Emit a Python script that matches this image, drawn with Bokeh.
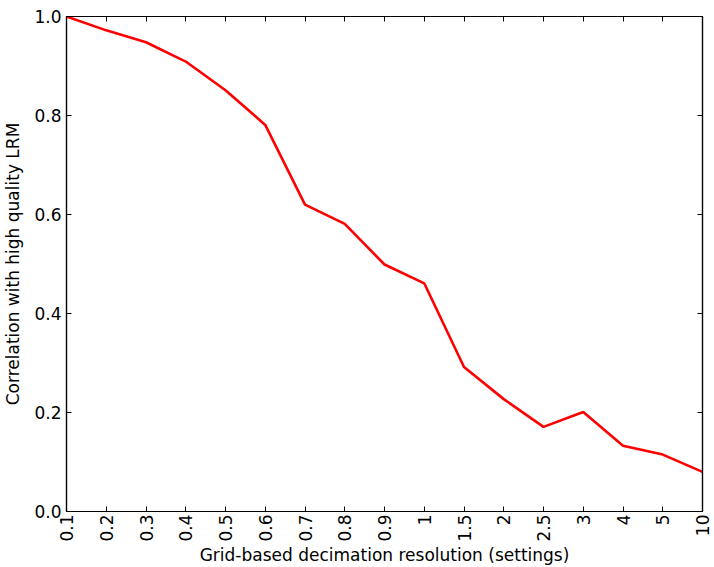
import math
from bokeh.plotting import figure
from bokeh.models import FixedTicker, LinearAxis, Range1d, PrintfTickFormatter, CustomJSTickFormatter
from bokeh.embed import file_html
from bokeh.resources import INLINE

x_labels = ["0.1", "0.2", "0.3", "0.4", "0.5", "0.6", "0.7", "0.8", "0.9", "1",
            "1.5", "2", "2.5", "3", "4", "5", "10"]
correlation = [1.0, 0.972, 0.948, 0.909, 0.851, 0.781, 0.620, 0.581, 0.499, 0.461,
               0.292, 0.227, 0.171, 0.201, 0.133, 0.115, 0.080]
y_ticks = [0.0, 0.2, 0.4, 0.6, 0.8, 1.0]

xs = list(range(len(x_labels)))
FONT = "DejaVu Sans"
FS = "17px"

p = figure(width=714, height=567, output_backend="svg", toolbar_location=None,
           x_range=Range1d(0, len(x_labels) - 1), y_range=Range1d(0, 1.0),
           min_border_left=66, min_border_top=16, min_border_right=12, min_border_bottom=52)
p.xgrid.visible = False
p.ygrid.visible = False
p.outline_line_color = "black"
p.outline_line_width = 1.2
p.background_fill_color = "white"
p.border_fill_color = "white"

p.line(xs, correlation, line_color="red", line_width=2.6)

ov = {i: lab for i, lab in enumerate(x_labels)}

def style(ax):
    ax.major_tick_in = 5
    ax.major_tick_out = 0
    ax.minor_tick_in = 0
    ax.minor_tick_out = 0
    ax.axis_line_color = "black"
    ax.axis_line_width = 1.2
    ax.major_tick_line_color = "black"
    ax.major_label_text_font = FONT
    ax.major_label_text_font_size = FS
    ax.major_label_text_color = "black"
    ax.axis_label_text_font = FONT
    ax.axis_label_text_font_size = FS
    ax.axis_label_text_font_style = "normal"
    ax.axis_label_text_color = "black"

xa = p.xaxis[0]
xa.ticker = FixedTicker(ticks=xs)
xa.major_label_overrides = ov
xa.major_label_orientation = math.pi / 2
xa.axis_label = "Grid-based decimation resolution (settings)"
xa.axis_label_standoff = 0
xa.major_label_standoff = 3
style(xa)

ya = p.yaxis[0]
ya.ticker = FixedTicker(ticks=y_ticks)
ya.formatter = PrintfTickFormatter(format="%.1f")
ya.axis_label = "Correlation with high quality LRM"
ya.major_label_standoff = 5
ya.axis_label_standoff = 8
style(ya)

top = LinearAxis(ticker=FixedTicker(ticks=xs), formatter=CustomJSTickFormatter(code="return ''"))
style(top)
top.major_label_standoff = 0
p.add_layout(top, "above")

right = LinearAxis(ticker=FixedTicker(ticks=y_ticks), formatter=CustomJSTickFormatter(code="return ''"))
style(right)
right.major_label_standoff = 0
p.add_layout(right, "right")

open("out.html", "w").write(file_html(p, INLINE))
